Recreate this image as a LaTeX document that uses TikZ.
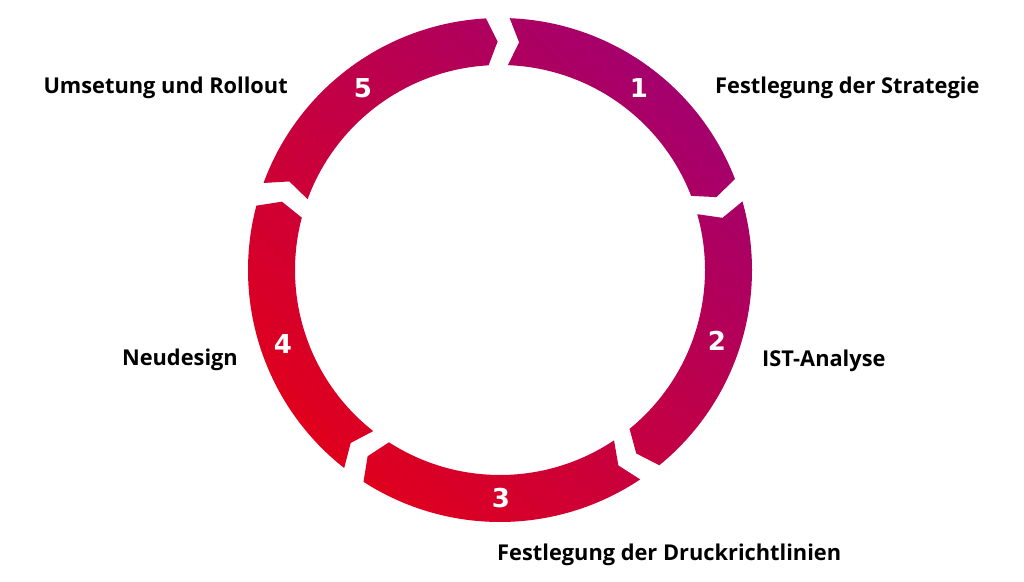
\documentclass[tikz,border=0pt]{standalone}
\usepackage{fontspec}
\setmainfont{Open Sans}
\newfontfamily\numfont{DejaVu Sans}
\definecolor{ringred}{HTML}{E2001A}
\definecolor{ringpurple}{HTML}{A3006E}
\tikzset{
  lbl/.style={font=\fontsize{21.8}{25}\selectfont\bfseries, text=black, inner sep=0pt},
  num/.style={font=\numfont\fontsize{26}{29}\selectfont\bfseries, text=white, inner sep=0pt, anchor=center},
}
\begin{document}
\begin{tikzpicture}[x=1pt,y=1pt]
\useasboundingbox (0,0) rectangle (1024,581);
\begin{scope}[shift={(500,311)}]
\shade[left color=ringpurple, right color=ringred, shading angle=-45]
  \foreach \s [evaluate=\s as \e using \s-72] in {90.5,18.5,-53.5,-125.5,-197.5}{
    ({\s-2.7}:252) arc[start angle={\s-2.7}, end angle={\e+2.7}, radius=252]
    -- ({\e+0.1}:228.5) -- ({\e+2.7}:205)
    arc[start angle={\e+2.7}, end angle={\s-2.7}, radius=205]
    -- ({\s-5.3}:228.5) -- cycle
  };
\end{scope}
\node[num] (n1) at (639,493) {1};
\node[num] (n2) at (717,240) {2};
\node[num] (n3) at (501,83) {3};
\node[num] (n4) at (283,237) {4};
\node[num] (n5) at (363,493) {5};
\node[lbl, anchor=base west] (l1) at (715,487) {Festlegung der Strategie};
\node[lbl, anchor=base west] (l2) at (762,214) {IST-Analyse};
\node[lbl, anchor=base west] (l3) at (497,21) {Festlegung der Druckrichtlinien};
\node[lbl, anchor=base east] (l4) at (238,215) {Neudesign};
\node[lbl, anchor=base east] (l5) at (288,487) {Umsetung und Rollout};
\end{tikzpicture}
\end{document}
